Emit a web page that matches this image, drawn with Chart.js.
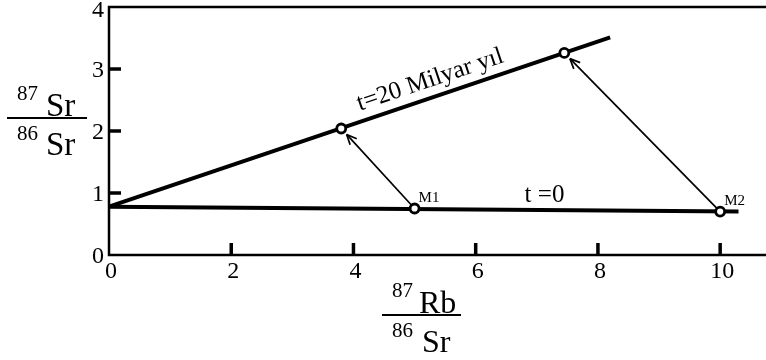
<!DOCTYPE html>
<html>
<head>
<meta charset="utf-8">
<script src="https://cdn.jsdelivr.net/npm/chart.js@4/dist/chart.umd.min.js"></script>
<style>
  html, body { margin: 0; padding: 0; background: #fff; }
  #wrap { width: 766px; height: 360px; position: relative; }
</style>
</head>
<body>
<div id="wrap"><canvas id="c"></canvas></div>
<script>
// Axis ticks
const xTicks = [0, 2, 4, 6, 8, 10];
const yTicks = [0, 1, 2, 3, 4];

// Isochrons (87Rb/86Sr, 87Sr/86Sr)
const isochronT0  = [{ x: 0, y: 0.78 }, { x: 10.3, y: 0.70 }];
const isochronT20 = [{ x: 0, y: 0.78 }, { x: 8.2, y: 3.51 }];

// Samples at t = 0 and after 20 billion years
const sampleNames = ['M1', 'M2'];
const samplesT0   = [{ x: 5.0, y: 0.75 }, { x: 10.0, y: 0.70 }];
const samplesT20  = [{ x: 3.8, y: 2.04 }, { x: 7.45, y: 3.26 }];

const SERIF = '"Liberation Serif", "Times New Roman", serif';

// Free text labels, anchored in data coordinates
const labelT0  = { text: 't =0', x: 6.8, y: 0.855 };
const labelT20 = { text: 't=20 Milyar yıl', x: 5.29, y: 2.72 };

function seg(ctx, x1, y1, x2, y2) {
  ctx.beginPath(); ctx.moveTo(x1, y1); ctx.lineTo(x2, y2); ctx.stroke();
}

function fraction(ctx, lineY, lineX1, lineX2, topSup, topMain, botSup, botMain, o) {
  ctx.lineWidth = 2.2;
  seg(ctx, lineX1, lineY, lineX2, lineY);
  ctx.textAlign = 'left';
  ctx.textBaseline = 'alphabetic';
  ctx.font = o.supSize + 'px ' + SERIF;
  ctx.fillText(topSup, o.supX, o.topSupBase);
  ctx.fillText(botSup, o.supX, o.botSupBase);
  ctx.font = o.mainSize + 'px ' + SERIF;
  ctx.fillText(topMain, o.mainX, o.topMainBase);
  ctx.fillText(botMain, o.mainX2 ?? o.mainX, o.botMainBase);
}

const decor = {
  id: 'isochronDecor',
  beforeDatasetsDraw(chart) {
    const { ctx, chartArea: a, scales: { x, y } } = chart;
    ctx.save();
    ctx.strokeStyle = '#000';
    ctx.fillStyle = '#000';
    ctx.lineCap = 'butt';

    // frame: top rule, left axis, bottom axis
    ctx.lineWidth = 2.5;
    ctx.beginPath();
    ctx.moveTo(a.right, a.top);
    ctx.lineTo(a.left, a.top);
    ctx.lineTo(a.left, a.bottom);
    ctx.lineTo(a.right, a.bottom);
    ctx.stroke();

    // inward tick marks
    ctx.lineWidth = 3.5;
    xTicks.forEach(v => {
      if (v === 0) return;
      const px = x.getPixelForValue(v);
      seg(ctx, px, a.bottom, px, a.bottom - 12);
    });
    yTicks.forEach(v => {
      if (v === 0 || v === 4) return;
      const py = y.getPixelForValue(v);
      seg(ctx, a.left, py, a.left + 12, py);
    });

    // tick labels
    ctx.font = '24px ' + SERIF;
    ctx.textBaseline = 'alphabetic';
    ctx.textAlign = 'right';
    yTicks.forEach(v => {
      const py = y.getPixelForValue(v);
      ctx.fillText(String(v), a.left - 5, Math.max(py + 8, 17));
    });
    ctx.textAlign = 'center';
    xTicks.forEach(v => {
      const px = x.getPixelForValue(v);
      ctx.fillText(String(v), px + 2, a.bottom + 23);
    });

    // axis titles as ratios
    fraction(ctx, 118, 7, 87, '87', 'Sr', '86', 'Sr', {
      supSize: 21, mainSize: 33, supX: 17, mainX: 46,
      topSupBase: 100, topMainBase: 116, botSupBase: 140, botMainBase: 155
    });
    fraction(ctx, 315, 382, 461, '87', 'Rb', '86', 'Sr', {
      supSize: 21, mainSize: 32, supX: 392, mainX: 419, mainX2: 422,
      topSupBase: 297, topMainBase: 313, botSupBase: 337, botMainBase: 352
    });

    // arrows from the initial samples to their evolved positions
    ctx.lineWidth = 1.7;
    samplesT0.forEach((p, i) => {
      const q = samplesT20[i];
      const x1 = x.getPixelForValue(p.x), y1 = y.getPixelForValue(p.y);
      const x2 = x.getPixelForValue(q.x), y2 = y.getPixelForValue(q.y);
      const ang = Math.atan2(y2 - y1, x2 - x1);
      const tx = x2 - Math.cos(ang) * 8, ty = y2 - Math.sin(ang) * 8;
      seg(ctx, x1, y1, tx, ty);
      const wing = 11, spread = 0.42;
      seg(ctx, tx, ty, tx - Math.cos(ang - spread) * wing, ty - Math.sin(ang - spread) * wing);
      seg(ctx, tx, ty, tx - Math.cos(ang + spread) * wing, ty - Math.sin(ang + spread) * wing);
    });

    ctx.restore();
  },
  afterDatasetsDraw(chart) {
    const { ctx, scales: { x, y } } = chart;
    ctx.save();
    ctx.fillStyle = '#000';
    ctx.textBaseline = 'alphabetic';

    // sample names
    ctx.font = '15px ' + SERIF;
    ctx.textAlign = 'left';
    samplesT0.forEach((p, i) => {
      ctx.fillText(sampleNames[i], x.getPixelForValue(p.x) + 4, y.getPixelForValue(p.y) - 7);
    });

    // isochron labels
    ctx.font = '25px ' + SERIF;
    ctx.fillText(labelT0.text, x.getPixelForValue(labelT0.x), y.getPixelForValue(labelT0.y));

    const a0 = isochronT20[0], a1 = isochronT20[1];
    const ang = Math.atan2(
      y.getPixelForValue(a1.y) - y.getPixelForValue(a0.y),
      x.getPixelForValue(a1.x) - x.getPixelForValue(a0.x)
    );
    ctx.font = '25px ' + SERIF;
    ctx.textAlign = 'center';
    ctx.translate(x.getPixelForValue(labelT20.x), y.getPixelForValue(labelT20.y));
    ctx.rotate(ang);
    ctx.fillText(labelT20.text, 0, 0);
    ctx.restore();
  }
};

new Chart(document.getElementById('c'), {
  type: 'scatter',
  data: {
    datasets: [
      {
        label: 'samples t=0',
        data: samplesT0,
        order: 0,
        pointRadius: 4.5,
        pointBorderWidth: 2.8,
        pointBackgroundColor: '#fff',
        pointBorderColor: '#000',
        showLine: false
      },
      {
        label: 'samples t=20',
        data: samplesT20,
        order: 0,
        pointRadius: 4.5,
        pointBorderWidth: 2.8,
        pointBackgroundColor: '#fff',
        pointBorderColor: '#000',
        showLine: false
      },
      {
        label: 'isochron t=0',
        data: isochronT0,
        order: 1,
        showLine: true,
        borderColor: '#000',
        borderWidth: 4,
        pointRadius: 0,
        tension: 0
      },
      {
        label: 'isochron t=20',
        data: isochronT20,
        order: 1,
        showLine: true,
        borderColor: '#000',
        borderWidth: 4,
        pointRadius: 0,
        tension: 0
      }
    ]
  },
  options: {
    responsive: true,
    maintainAspectRatio: false,
    animation: false,
    devicePixelRatio: 1,
    layout: { autoPadding: false, padding: { left: 109, top: 7, right: 0, bottom: 105 } },
    plugins: { legend: { display: false }, tooltip: { enabled: false } },
    elements: { line: { borderCapStyle: 'butt' } },
    scales: {
      x: { type: 'linear', min: 0, max: 10.75, display: false },
      y: { type: 'linear', min: 0, max: 4, display: false }
    },
    clip: false
  },
  plugins: [decor]
});
</script>
</body>
</html>
